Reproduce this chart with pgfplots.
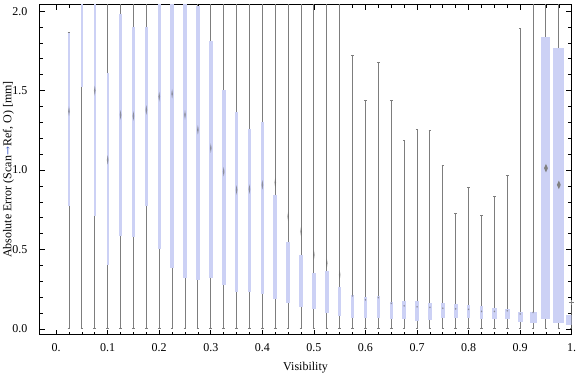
\documentclass[border=0pt]{standalone}
\usepackage{fontspec}
\setmainfont{Liberation Serif}
\newfontfamily\arrowfont{DejaVu Serif}
\usepackage{pgfplots}
\pgfplotsset{compat=1.18}
\usepackage{pgfplotstable}
\usepgfplotslibrary{statistics}
\definecolor{boxc}{RGB}{204,209,245}
\definecolor{whisk}{RGB}{125,125,125}
\definecolor{arrowc}{RGB}{60,90,200}

% x = visibility, w = box width, lo/q1/q3/hi = whisker and quartiles
\pgfplotstableread{
x     w      lo    q1    q3    hi
0.025 0.0029 0.006 0.775 1.865 1.865
0.050 0.0029 0.006 1.520 2.300 2.300
0.075 0.0039 0.006 0.711 2.300 2.300
0.100 0.0039 0.006 0.404 1.609 2.300
0.125 0.0045 0.006 0.586 1.982 2.300
0.150 0.0045 0.006 0.582 1.899 2.300
0.175 0.0052 0.006 0.775 1.899 2.300
0.200 0.0064 0.006 0.502 2.300 2.300
0.225 0.0064 0.006 0.387 2.300 2.300
0.250 0.0064 0.006 0.320 2.300 2.300
0.275 0.0070 0.006 0.309 2.030 2.300
0.300 0.0075 0.006 0.320 1.813 2.300
0.325 0.0075 0.006 0.278 1.505 2.300
0.350 0.0068 0.006 0.230 1.364 2.300
0.375 0.0068 0.006 0.230 1.257 2.300
0.400 0.0068 0.006 0.221 1.303 2.300
0.425 0.0070 0.006 0.192 0.844 2.300
0.450 0.0075 0.006 0.167 0.548 2.300
0.475 0.0075 0.006 0.138 0.465 2.300
0.500 0.0070 0.006 0.125 0.352 2.300
0.525 0.0078 0.006 0.104 0.366 2.300
0.550 0.0068 0.006 0.083 0.267 2.300
0.575 0.0068 0.006 0.068 0.215 1.718
0.600 0.0068 0.006 0.068 0.204 1.441
0.625 0.0068 0.006 0.068 0.209 1.674
0.650 0.0068 0.006 0.062 0.173 1.441
0.675 0.0068 0.006 0.062 0.176 1.184
0.700 0.0068 0.006 0.053 0.179 1.257
0.725 0.0068 0.006 0.058 0.163 1.247
0.750 0.0068 0.006 0.068 0.163 1.026
0.775 0.0072 0.006 0.068 0.158 0.725
0.800 0.0072 0.006 0.068 0.152 0.892
0.825 0.0072 0.006 0.062 0.142 0.712
0.850 0.0097 0.006 0.062 0.131 0.833
0.875 0.0097 0.006 0.062 0.127 0.963
0.900 0.0097 0.006 0.047 0.106 1.892
0.925 0.0136 0.006 0.037 0.110 2.300
0.950 0.0175 0.006 0.062 1.840 2.300
0.975 0.0214 0.006 0.041 1.767 2.300
1.000 0.0214 0.006 0.026 0.089 0.170
}\boxdata

% central markers
\pgfplotstableread{
x     m
0.025 1.370
0.075 1.500
0.100 1.064
0.125 1.347
0.150 1.340
0.175 1.378
0.200 1.462
0.225 1.480
0.250 1.347
0.275 1.253
0.300 1.138
0.325 0.990
0.350 0.875
0.375 0.880
0.400 0.907
0.425 0.921
0.450 0.708
0.475 0.613
0.500 0.467
0.525 0.414
0.550 0.341
}\medA
\pgfplotstableread{
x     m
0.575 0.209
0.600 0.184
0.625 0.198
0.650 0.162
0.675 0.146
0.700 0.140
0.725 0.137
0.750 0.131
0.775 0.127
0.800 0.124
0.825 0.111
0.850 0.111
0.875 0.115
0.900 0.095
0.925 0.105
}\medB
\pgfplotstableread{
x     m
0.950 1.012
0.975 0.907
}\medC

\pgfplotstablegetrowsof{\boxdata}
\pgfmathtruncatemacro{\nrows}{\pgfplotsretval-1}

\begin{document}
\begin{tikzpicture}
\begin{axis}[
  scale only axis, width=399.3pt, height=248pt,
  xmin=-0.0325, xmax=1.0, ymin=-0.037, ymax=2.043,
  xtick={0,0.1,0.2,0.3,0.4,0.5,0.6,0.7,0.8,0.9,1},
  xticklabels={0.,0.1,0.2,0.3,0.4,0.5,0.6,0.7,0.8,0.9,1.},
  minor x tick num=3,
  ytick={0,0.5,1,1.5,2},
  yticklabels={0.0,0.5,1.0,1.5,2.0},
  minor y tick num=4,
  tick align=inside, tick pos=both,
  major tick length=4pt, minor tick length=2.5pt,
  every tick/.style={black, line width=0.5pt},
  axis line style={line width=0.7pt},
  font=\fontsize{9}{10}\selectfont,
  /pgf/number format/assume math mode=true,
  yticklabel style={xshift=-5.5pt},
  xticklabel style={yshift=-3pt},
  xlabel={Visibility},
  ylabel={Absolute Error (Scan{\color{arrowc}\arrowfont\fontsize{8}{9}\selectfont →}Ref, O) [mm]},
  every axis x label/.style={at={(axis description cs:0.5,-0.098)}, anchor=center},
  every axis y label/.style={at={(axis description cs:-0.0579,0.5)}, anchor=center, rotate=90},
  boxplot/draw direction=y,
  boxplot/every box/.style={draw=none, fill=boxc},
  boxplot/every whisker/.style={draw=whisk, line width=0.7pt},
  boxplot/every median/.style={draw=none},
]
\pgfplotsinvokeforeach{0,...,\nrows}{%
  \pgfplotstablegetelem{#1}{x}\of\boxdata \let\bx\pgfplotsretval
  \pgfplotstablegetelem{#1}{w}\of\boxdata \let\bw\pgfplotsretval
  \pgfplotstablegetelem{#1}{lo}\of\boxdata \let\blo\pgfplotsretval
  \pgfplotstablegetelem{#1}{q1}\of\boxdata \let\bqa\pgfplotsretval
  \pgfplotstablegetelem{#1}{q3}\of\boxdata \let\bqb\pgfplotsretval
  \pgfplotstablegetelem{#1}{hi}\of\boxdata \let\bhi\pgfplotsretval
  \edef\doplot{\noexpand\addplot[draw=none, boxplot prepared={draw position=\bx, box extend=\bw, whisker extend=0.005, lower whisker=\blo, lower quartile=\bqa, median=\bqa, upper quartile=\bqb, upper whisker=\bhi}] coordinates {};}%
  \doplot
}
\addplot[only marks, mark=diamond*, mark size=0.8pt,
  mark options={yscale=4.5, fill=black!60, draw=black!60, line width=0pt, draw opacity=0, fill opacity=0.62}]
  table[x=x, y=m] {\medA};
\addplot[only marks, mark=diamond*, mark size=0.75pt,
  mark options={fill=black!60, draw=black!60, line width=0pt, draw opacity=0, fill opacity=0.65}]
  table[x=x, y=m] {\medB};
\addplot[only marks, mark=diamond*, mark size=3.2pt,
  mark options={xscale=0.6, fill=black!50, draw=black!50, line width=0pt, draw opacity=0}]
  table[x=x, y=m] {\medC};
\addplot[only marks, mark=+, mark size=2pt, mark options={draw=whisk, line width=0.6pt}]
  coordinates {(0.999,0.169)};
\end{axis}
\pgfresetboundingbox
\path[use as bounding box] ([shift={(-29.5pt,-30pt)}]current axis.south west) rectangle ([shift={(3.2pt,3.2pt)}]current axis.north east);
\end{tikzpicture}
\end{document}
